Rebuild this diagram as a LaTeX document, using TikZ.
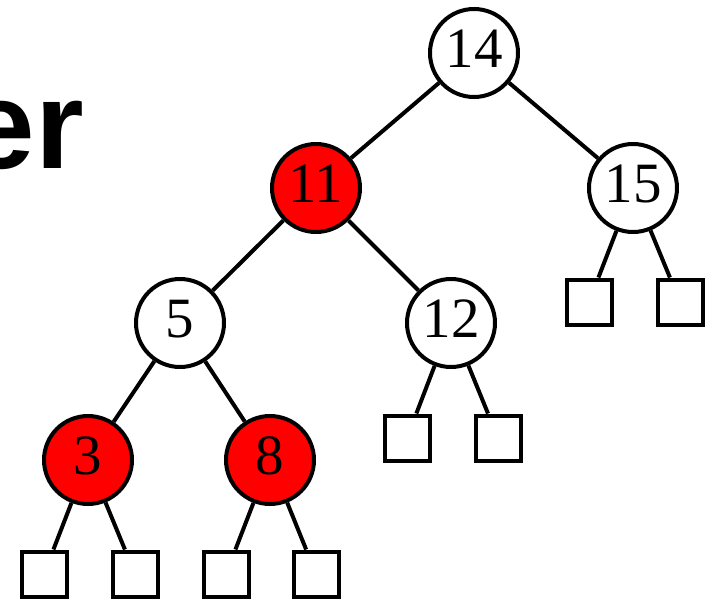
\documentclass[tikz,border=0pt]{standalone}
\usepackage{fontspec}
\setmainfont{Liberation Serif}
\newfontfamily\headfont{Liberation Sans}
\begin{document}
\begin{tikzpicture}[x=1pt,y=-1pt,
  treenode/.style={circle,draw=black,line width=4pt,minimum size=88pt,inner sep=0pt,
    font=\fontsize{57}{60}\selectfont,text height=28pt,text depth=0pt},
  rednode/.style={treenode,fill=red},
  blacknode/.style={treenode,fill=white},
  leafbox/.style={rectangle,draw=black,line width=4pt,minimum size=45pt,inner sep=0pt,fill=white},
  edge/.style={line width=4pt,draw=black}]
\useasboundingbox (0,0) rectangle (710,602);
\clip (0,0) rectangle (710,602);
\node[anchor=base east,inner sep=0pt,font=\headfont\bfseries\fontsize{125}{130}\selectfont] (title) at (84,168) {er};
\node[blacknode] (n14) at (474,53) {14};
\node[rednode]   (n11) at (316,188) {11};
\node[blacknode] (n15) at (633,188) {15};
\node[blacknode] (n5)  at (180,323) {5};
\node[blacknode] (n12) at (451,323) {12};
\node[rednode]   (n3)  at (88,460) {3};
\node[rednode]   (n8)  at (270,460) {8};
\node[leafbox] (l15a) at (589,302) {};
\node[leafbox] (l15b) at (680,302) {};
\node[leafbox] (l12a) at (407,438) {};
\node[leafbox] (l12b) at (498,438) {};
\node[leafbox] (l3a)  at (44,574) {};
\node[leafbox] (l3b)  at (135,574) {};
\node[leafbox] (l8a)  at (226,574) {};
\node[leafbox] (l8b)  at (316,574) {};
\draw[edge] (n14) -- (n11);
\draw[edge] (n14) -- (n15);
\draw[edge] (n11) -- (n5);
\draw[edge] (n11) -- (n12);
\draw[edge] (n5) -- (n3);
\draw[edge] (n5) -- (n8);
\draw[edge] (n15) -- (l15a);
\draw[edge] (n15) -- (l15b);
\draw[edge] (n12) -- (l12a);
\draw[edge] (n12) -- (l12b);
\draw[edge] (n3) -- (l3a);
\draw[edge] (n3) -- (l3b);
\draw[edge] (n8) -- (l8a);
\draw[edge] (n8) -- (l8b);
\end{tikzpicture}
\end{document}
